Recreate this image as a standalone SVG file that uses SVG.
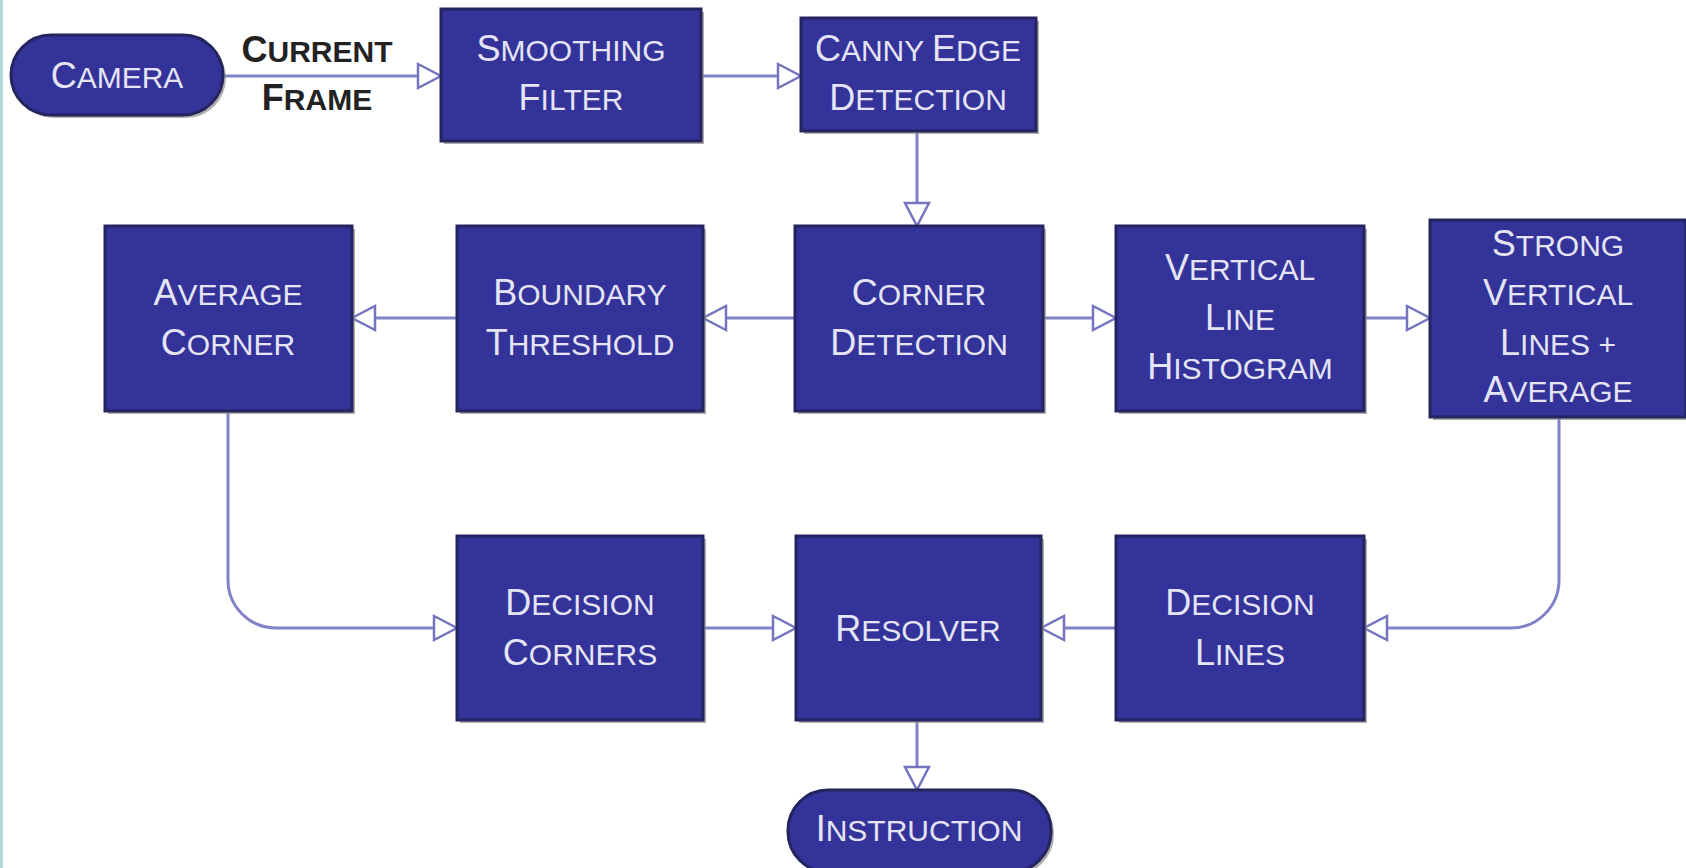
<svg xmlns="http://www.w3.org/2000/svg" width="1686" height="868" viewBox="0 0 1686 868">
<style>
.box{fill:#333399;stroke:#24245e;stroke-width:3}
.sh{fill:#8a8a8a;opacity:0.7}
.t{font-family:"Liberation Sans",Arial,sans-serif;fill:#e4e4f4;text-anchor:middle}
.lbl{font-family:"Liberation Sans",Arial,sans-serif;fill:#222;text-anchor:middle;font-weight:bold}
.b{font-size:36px}
.s{font-size:30px}
.c{fill:none;stroke:#8282c8;stroke-width:3}
</style>
<defs>
<marker id="ar" viewBox="-3 -3 30 30" markerUnits="userSpaceOnUse" markerWidth="30" markerHeight="30" refX="23" refY="12" orient="auto">
<path d="M0,0 L23,12 L0,24 Z" fill="#fff" stroke="#7474c0" stroke-width="2.5"/>
</marker>
</defs>
<rect x="0" y="0" width="1686" height="868" fill="#fff"/>
<line x1="1.5" y1="0" x2="1.5" y2="868" stroke="#b2d6dc" stroke-width="3"/>

<g id="connectors">
<line class="c" x1="223" y1="76" x2="441" y2="76" marker-end="url(#ar)"/>
<line class="c" x1="701" y1="76" x2="801" y2="76" marker-end="url(#ar)"/>
<line class="c" x1="917" y1="131" x2="917" y2="226" marker-end="url(#ar)"/>
<line class="c" x1="795" y1="318" x2="703" y2="318" marker-end="url(#ar)"/>
<line class="c" x1="457" y1="318" x2="352" y2="318" marker-end="url(#ar)"/>
<line class="c" x1="1043" y1="318" x2="1116" y2="318" marker-end="url(#ar)"/>
<line class="c" x1="1364" y1="318" x2="1430" y2="318" marker-end="url(#ar)"/>
<path class="c" d="M228,411 V580 A48,48 0 0 0 276,628 H457" marker-end="url(#ar)"/>
<path class="c" d="M1559,417 V580 A48,48 0 0 1 1511,628 H1364" marker-end="url(#ar)"/>
<line class="c" x1="703" y1="628" x2="796" y2="628" marker-end="url(#ar)"/>
<line class="c" x1="1116" y1="628" x2="1041" y2="628" marker-end="url(#ar)"/>
<line class="c" x1="917" y1="720" x2="917" y2="790" marker-end="url(#ar)"/>
</g>

<g id="label-current-frame">
<text class="lbl" x="317" y="62"><tspan class="b">C</tspan><tspan class="s">URRENT</tspan></text>
<text class="lbl" x="317" y="110"><tspan class="b">F</tspan><tspan class="s">RAME</tspan></text>
</g>

<g id="camera">
<rect class="sh" x="14" y="38" width="212" height="80" rx="40"/>
<rect class="box" x="11" y="35" width="212" height="80" rx="40"/>
<text class="t" x="117" y="88"><tspan class="b">C</tspan><tspan class="s">AMERA</tspan></text>
</g>

<g id="smoothing-filter">
<rect class="sh" x="444" y="12" width="260" height="132"/>
<rect class="box" x="441" y="9" width="260" height="132"/>
<text class="t" x="571" y="61"><tspan class="b">S</tspan><tspan class="s">MOOTHING</tspan></text>
<text class="t" x="571" y="110"><tspan class="b">F</tspan><tspan class="s">ILTER</tspan></text>
</g>

<g id="canny-edge-detection">
<rect class="sh" x="804" y="21" width="235" height="113"/>
<rect class="box" x="801" y="18" width="235" height="113"/>
<text class="t" x="918" y="61"><tspan class="b">C</tspan><tspan class="s">ANNY </tspan><tspan class="b">E</tspan><tspan class="s">DGE</tspan></text>
<text class="t" x="918" y="110"><tspan class="b">D</tspan><tspan class="s">ETECTION</tspan></text>
</g>

<g id="average-corner">
<rect class="sh" x="108" y="229" width="247" height="185"/>
<rect class="box" x="105" y="226" width="247" height="185"/>
<text class="t" x="228" y="305"><tspan class="b">A</tspan><tspan class="s">VERAGE</tspan></text>
<text class="t" x="228" y="355"><tspan class="b">C</tspan><tspan class="s">ORNER</tspan></text>
</g>

<g id="boundary-threshold">
<rect class="sh" x="460" y="229" width="246" height="185"/>
<rect class="box" x="457" y="226" width="246" height="185"/>
<text class="t" x="580" y="305"><tspan class="b">B</tspan><tspan class="s">OUNDARY</tspan></text>
<text class="t" x="580" y="355"><tspan class="b">T</tspan><tspan class="s">HRESHOLD</tspan></text>
</g>

<g id="corner-detection">
<rect class="sh" x="798" y="229" width="248" height="185"/>
<rect class="box" x="795" y="226" width="248" height="185"/>
<text class="t" x="919" y="305"><tspan class="b">C</tspan><tspan class="s">ORNER</tspan></text>
<text class="t" x="919" y="355"><tspan class="b">D</tspan><tspan class="s">ETECTION</tspan></text>
</g>

<g id="vertical-line-histogram">
<rect class="sh" x="1119" y="229" width="248" height="185"/>
<rect class="box" x="1116" y="226" width="248" height="185"/>
<text class="t" x="1240" y="280"><tspan class="b">V</tspan><tspan class="s">ERTICAL</tspan></text>
<text class="t" x="1240" y="330"><tspan class="b">L</tspan><tspan class="s">INE</tspan></text>
<text class="t" x="1240" y="379"><tspan class="b">H</tspan><tspan class="s">ISTOGRAM</tspan></text>
</g>

<g id="strong-vertical-lines-average">
<rect class="sh" x="1433" y="223" width="256" height="197"/>
<rect class="box" x="1430" y="220" width="256" height="197"/>
<text class="t" x="1558" y="256"><tspan class="b">S</tspan><tspan class="s">TRONG</tspan></text>
<text class="t" x="1558" y="305"><tspan class="b">V</tspan><tspan class="s">ERTICAL</tspan></text>
<text class="t" x="1558" y="355"><tspan class="b">L</tspan><tspan class="s">INES +</tspan></text>
<text class="t" x="1558" y="402"><tspan class="b">A</tspan><tspan class="s">VERAGE</tspan></text>
</g>

<g id="decision-corners">
<rect class="sh" x="460" y="539" width="246" height="184"/>
<rect class="box" x="457" y="536" width="246" height="184"/>
<text class="t" x="580" y="615"><tspan class="b">D</tspan><tspan class="s">ECISION</tspan></text>
<text class="t" x="580" y="665"><tspan class="b">C</tspan><tspan class="s">ORNERS</tspan></text>
</g>

<g id="resolver">
<rect class="sh" x="799" y="539" width="245" height="184"/>
<rect class="box" x="796" y="536" width="245" height="184"/>
<text class="t" x="918" y="641"><tspan class="b">R</tspan><tspan class="s">ESOLVER</tspan></text>
</g>

<g id="decision-lines">
<rect class="sh" x="1119" y="539" width="248" height="184"/>
<rect class="box" x="1116" y="536" width="248" height="184"/>
<text class="t" x="1240" y="615"><tspan class="b">D</tspan><tspan class="s">ECISION</tspan></text>
<text class="t" x="1240" y="665"><tspan class="b">L</tspan><tspan class="s">INES</tspan></text>
</g>

<g id="instruction">
<rect class="sh" x="791" y="793" width="263" height="82" rx="40"/>
<rect class="box" x="788" y="790" width="263" height="82" rx="40"/>
<text class="t" x="919" y="841"><tspan class="b">I</tspan><tspan class="s">NSTRUCTION</tspan></text>
</g>
</svg>
